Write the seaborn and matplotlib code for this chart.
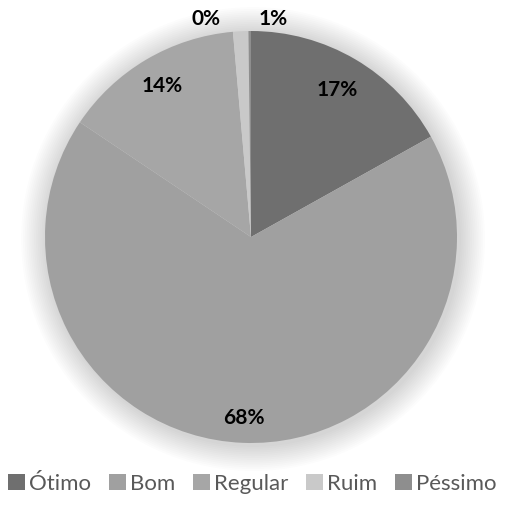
import numpy as np
import matplotlib
matplotlib.use("Agg")
import matplotlib.pyplot as plt
from matplotlib.patches import Circle, Patch
import seaborn as sns

categorias = ["Ótimo", "Bom", "Regular", "Ruim", "Péssimo"]
valores = [16.9, 67.5, 14.2, 1.2, 0.2]
rotulos = ["17%", "68%", "14%", "1%", "0%"]
cores = ["#6f6f6f", "#a0a0a0", "#a6a6a6", "#c9c9c9", "#8e8e8e"]

sns.set_style("white")
plt.rcParams['font.family'] = ['Lato', 'DejaVu Sans']

fig = plt.figure(figsize=(5.05, 5.05), dpi=100)
cx, cy, r = 251 / 505, 1 - 237 / 505, 206 / 505
ax = fig.add_axes([cx - r * 1.2, cy - r * 1.2, 2 * r * 1.2, 2 * r * 1.2])
ax.axis("off")

# sombra suave
for i in range(14):
    ax.add_patch(Circle((0.01, -0.01), 1 + 0.009 * (14 - i), color="#000000",
                        alpha=0.011, lw=0, zorder=0))

wedges, _ = ax.pie(valores, colors=cores, startangle=90, counterclock=False,
                   radius=1, wedgeprops=dict(linewidth=0))
for w in wedges:
    w.set_zorder(2)
ax.set_xlim(-1.2, 1.2)
ax.set_ylim(-1.2, 1.2)

# rótulos das fatias grandes
for w, txt, d in zip(wedges[:3], rotulos[:3], [0.83, 0.88, 0.85]):
    ang = np.deg2rad((w.theta1 + w.theta2) / 2)
    ax.text(d * np.cos(ang), d * np.sin(ang), txt, ha="center", va="center",
            fontsize=15, fontweight="bold", color="#000000", zorder=3)

# rótulos das fatias pequenas, fora do círculo
for w, txt, dx in zip(wedges[3:], rotulos[3:], [0.16, -0.21]):
    ang = np.deg2rad((w.theta1 + w.theta2) / 2)
    ax.text(1.06 * np.cos(ang) + dx, 1.06 * np.sin(ang), txt, ha="center",
            va="center", fontsize=15, fontweight="bold", color="#000000", zorder=3)

handles = [Patch(facecolor=c, edgecolor="none") for c in cores]
fig.legend(handles, categorias, loc="center", bbox_to_anchor=(0.5, 1 - 484 / 505),
           ncol=5, frameon=False, fontsize=16, handlelength=0.75, handleheight=0.75,
           handletextpad=0.2, columnspacing=0.8, labelcolor="#595959")

fig.savefig("out.png", dpi=100)
